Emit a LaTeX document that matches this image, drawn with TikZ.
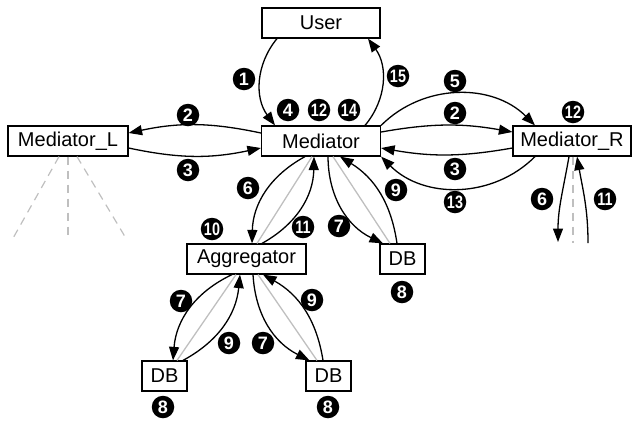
\documentclass[tikz,border=0pt]{standalone}
\usepackage{fontspec}
\usepackage{graphicx}
\setmainfont{Liberation Sans}
\usetikzlibrary{arrows.meta}
\newcommand{\twod}[1]{\scalebox{0.8}[1]{#1}}
\begin{document}
\begin{tikzpicture}[x=1pt,y=-1pt,
  box/.style={draw, line width=1.2pt, fill=white, minimum height=30pt, inner sep=0pt, font=\fontsize{20}{24}\selectfont},
  num/.style={circle, fill=black, text=white, minimum size=22.5pt, inner sep=0pt, font=\fontsize{18}{18}\selectfont\bfseries},
  arr/.style={line width=1.3pt, -{Triangle[length=13.5pt,width=10pt]}},
  gl/.style={line width=1.3pt, black!25},
  dl/.style={line width=1.2pt, black!25, dash pattern=on 8pt off 6pt}]
\useasboundingbox (0,0) rectangle (632,424);

% boxes
\node[box, minimum width=118pt] (user) at (321,23) {User};
\node[box, minimum width=119pt] (med) at (321,141) {Mediator};
\node[box, minimum width=120pt] (medL) at (68,141) {Mediator\_L};
\node[box, minimum width=118pt] (medR) at (572,141) {Mediator\_R};
\node[box, minimum width=119pt] (agg) at (246.5,259) {Aggregator};
\node[box, minimum width=45pt] (dbR) at (402.5,259) {DB};
\node[box, minimum width=45pt] (dbBL) at (164.5,376) {DB};
\node[box, minimum width=45pt] (dbBR) at (328.5,376) {DB};

% free ends
\coordinate (l1) at (12,240);
\coordinate (l2) at (68,240);
\coordinate (l3) at (127,240);
\coordinate (r6) at (558,242);
\coordinate (r11) at (588,243);
\coordinate (rd) at (573,243);

% dashed fan below Mediator_L
\draw[dl] ([xshift=-9pt]medL.south) -- (l1);
\draw[dl] (medL.south) -- (l2);
\draw[dl] ([xshift=9pt]medL.south) -- (l3);
\draw[dl] ([xshift=1pt]medR.south) -- (rd);

% gray straight lines
\draw[gl] ([xshift=-9pt]med.south) -- ([xshift=10.5pt]agg.north);
\draw[gl] ([xshift=12pt]med.south) -- ([xshift=-12.5pt]dbR.north);
\draw[gl] ([xshift=-10.5pt]agg.south) -- ([xshift=12.5pt]dbBL.north);
\draw[gl] ([xshift=11.5pt]agg.south) -- ([xshift=-11.5pt]dbBR.north);

% user <-> mediator
\draw[arr] ([xshift=-44pt]user.south) to[bend right=38] ([xshift=-46pt]med.north);
\draw[arr] ([xshift=44pt]med.north) to[bend right=38] ([xshift=47pt]user.south);

% mediator <-> mediator_L
\draw[arr] ([yshift=8pt]med.west) to[bend right=12] ([yshift=8pt]medL.east);
\draw[arr] ([yshift=-7pt]medL.east) to[bend right=12] ([yshift=-7pt]med.west);

% mediator <-> mediator_R
\draw[arr] ([yshift=9pt]med.east) to[bend left=10] ([yshift=9pt]medR.west);
\draw[arr] ([yshift=-7pt]medR.west) to[bend left=10] ([yshift=-7pt]med.east);
\draw[arr] (med.north east) to[bend left=45] ([xshift=-37pt]medR.north);
\draw[arr] ([xshift=-37pt]medR.south) to[bend left=45] (med.south east);

% mediator_R down
\draw[arr] ([xshift=-3pt]medR.south) to[out=-100,in=90] (r6);
\draw[arr] (r11) to[out=90,in=-80] ([xshift=5pt]medR.south);

% mediator <-> aggregator
\draw[arr] ([xshift=-16pt]med.south) to[bend right=30] ([xshift=5.5pt]agg.north);
\draw[arr] ([xshift=15.5pt]agg.north) to[bend right=30] ([xshift=-7pt]med.south);

% mediator <-> DB right
\draw[arr] ([xshift=7pt]med.south) to[bend right=32] ([xshift=-19.5pt]dbR.north);
\draw[arr] ([xshift=-5.5pt]dbR.north) to[bend right=25] ([xshift=19pt]med.south);

% aggregator <-> DB bottom left
\draw[arr] ([xshift=-14.5pt]agg.south) to[bend right=30] ([xshift=8.5pt]dbBL.north);
\draw[arr] ([xshift=18.5pt]dbBL.north) to[bend right=28] ([xshift=-6.5pt]agg.south);

% aggregator <-> DB bottom right
\draw[arr] ([xshift=6.5pt]agg.south) to[bend right=30] ([xshift=-19pt]dbBR.north);
\draw[arr] ([xshift=-5.5pt]dbBR.north) to[bend right=26] ([xshift=16.5pt]agg.south);

% step numbers
\node[num] (n1) at (244,79) {1};
\node[num] (n15) at (398,76) {\twod{15}};
\node[num] (n4) at (288,110) {4};
\node[num] (n12) at (319,110) {\twod{12}};
\node[num] (n14) at (349,110) {\twod{14}};
\node[num] (n2l) at (188,115) {2};
\node[num] (n3l) at (188,170) {3};
\node[num] (n5) at (455,81) {5};
\node[num] (n2r) at (455,113) {2};
\node[num] (n12r) at (573,112) {\twod{12}};
\node[num] (n3r) at (455,169) {3};
\node[num] (n13) at (455,202) {\twod{13}};
\node[num] (n6) at (248,188) {6};
\node[num] (n9m) at (396,190) {9};
\node[num] (n10) at (212,229) {\twod{10}};
\node[num] (n11) at (303,227) {\twod{11}};
\node[num] (n7r) at (339,226) {7};
\node[num] (n8r) at (402,292) {8};
\node[num] (n6r) at (542,199) {6};
\node[num] (n11r) at (605,199) {\twod{11}};
\node[num] (n7l) at (181,301) {7};
\node[num] (n9a) at (312,300) {9};
\node[num] (n9b) at (229,343) {9};
\node[num] (n7b) at (263,343) {7};
\node[num] (n8bl) at (163,407) {8};
\node[num] (n8br) at (328,407) {8};
\end{tikzpicture}
\end{document}
